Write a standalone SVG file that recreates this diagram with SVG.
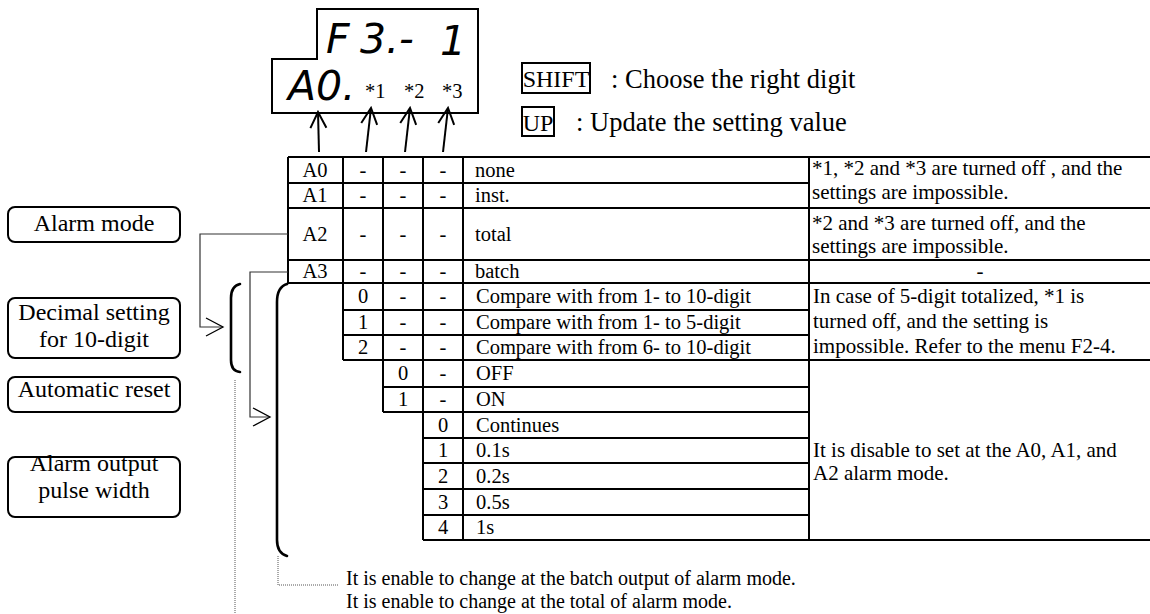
<svg xmlns="http://www.w3.org/2000/svg" width="1150" height="614" viewBox="0 0 1150 614">
<style>
.t{font-family:"Liberation Serif","Times New Roman",serif;font-size:20.5px;fill:#000}
.n{font-family:"Liberation Serif","Times New Roman",serif;font-size:21px;fill:#000}
.k{font-family:"Liberation Serif","Times New Roman",serif;font-size:24px;fill:#000}
.h{font-family:"Liberation Serif","Times New Roman",serif;font-size:26.5px;fill:#000}
.b{font-family:"Liberation Serif","Times New Roman",serif;font-size:20px;fill:#000}
.lb{font-family:"Liberation Serif","Times New Roman",serif;font-size:24px;fill:#000;text-anchor:middle}
.c{text-anchor:middle}
.seg{font-family:"DejaVu Sans",sans-serif;font-style:italic;font-size:41px;fill:#000}
.g{stroke:#000;stroke-width:2;fill:none}
.box{fill:#fff;stroke:#000;stroke-width:2}
.thin{stroke:#333;stroke-width:1.2;fill:none}
.dot{stroke:#555;stroke-width:1;fill:none;stroke-dasharray:1 1}
.br{stroke:#000;stroke-width:2.6;fill:none;stroke-linecap:round}
</style>
<defs>
<marker id="up" viewBox="0 0 20 20" refX="18" refY="10" markerWidth="20" markerHeight="20" markerUnits="userSpaceOnUse" orient="auto">
<path d="M2,2 L18,10 L2,18" fill="none" stroke="#000" stroke-width="2"/>
</marker>
<marker id="rt" viewBox="0 0 20 20" refX="18" refY="10" markerWidth="20" markerHeight="20" markerUnits="userSpaceOnUse" orient="auto">
<path d="M1,1 L18,10 L1,19" fill="none" stroke="#000" stroke-width="1.3"/>
</marker>
</defs>
<rect width="1150" height="614" fill="#fff"/>

<g id="display">
<path class="g" d="M317,9 L478,9 L478,113 L272,113 L272,59 L317,59 Z"/>
<text class="seg" x="326" y="53">F</text>
<text class="seg" x="360" y="53">3.-</text>
<text class="seg" x="440" y="55">1</text>
<text class="seg" x="288" y="100">A0.</text>
<text class="t" x="365" y="98">*1</text>
<text class="t" x="404" y="98">*2</text>
<text class="t" x="442" y="98">*3</text>
</g>

<g id="keys">
<rect class="g" x="522" y="63" width="68" height="30"/>
<text class="k" x="556" y="87" text-anchor="middle">SHIFT</text>
<text class="h" x="611" y="88">: Choose the right digit</text>
<rect class="g" x="522" y="107" width="32" height="29"/>
<text class="k" x="538" y="131" text-anchor="middle">UP</text>
<text class="h" x="576" y="131">: Update the setting value</text>
</g>

<g id="label-alarm-mode">
<rect class="box" x="8" y="207" width="172" height="35" rx="7"/>
<text class="lb" x="94" y="231">Alarm mode</text>
</g>
<g id="label-decimal">
<rect class="box" x="8" y="298" width="172" height="60" rx="7"/>
<text class="lb" x="94" y="320">Decimal setting</text>
<text class="lb" x="94" y="347">for 10-digit</text>
</g>
<g id="label-auto-reset">
<rect class="box" x="8" y="377" width="172" height="35" rx="7"/>
<text class="lb" x="94" y="397">Automatic reset</text>
</g>
<g id="label-pulse">
<rect class="box" x="8" y="457" width="172" height="60" rx="7"/>
<text class="lb" x="94" y="471">Alarm output</text>
<text class="lb" x="94" y="498">pulse width</text>
</g>

<g id="table">
<g class="g">
<line x1="288" y1="157" x2="1150" y2="157"/>
<line x1="288" y1="183" x2="809" y2="183"/>
<line x1="288" y1="208" x2="1150" y2="208"/>
<line x1="288" y1="260" x2="1150" y2="260"/>
<line x1="288" y1="283" x2="1150" y2="283"/>
<line x1="343" y1="310" x2="809" y2="310"/>
<line x1="343" y1="335" x2="809" y2="335"/>
<line x1="343" y1="360" x2="1150" y2="360"/>
<line x1="383" y1="387" x2="809" y2="387"/>
<line x1="383" y1="412" x2="809" y2="412"/>
<line x1="423" y1="438" x2="809" y2="438"/>
<line x1="423" y1="463" x2="809" y2="463"/>
<line x1="423" y1="489" x2="809" y2="489"/>
<line x1="423" y1="515" x2="809" y2="515"/>
<line x1="423" y1="540" x2="1150" y2="540"/>
<line x1="288" y1="157" x2="288" y2="283"/>
<line x1="343" y1="157" x2="343" y2="360"/>
<line x1="383" y1="157" x2="383" y2="412"/>
<line x1="423" y1="157" x2="423" y2="540"/>
<line x1="463" y1="157" x2="463" y2="540"/>
<line x1="809" y1="157" x2="809" y2="540"/>
</g>
<g class="t">
<text class="c" x="315" y="177">A0</text><text class="c" x="363" y="177">-</text><text class="c" x="403" y="177">-</text><text class="c" x="443" y="177">-</text><text x="475" y="177">none</text>
<text class="c" x="315" y="202">A1</text><text class="c" x="363" y="202">-</text><text class="c" x="403" y="202">-</text><text class="c" x="443" y="202">-</text><text x="475" y="202">inst.</text>
<text class="c" x="315" y="241">A2</text><text class="c" x="363" y="241">-</text><text class="c" x="403" y="241">-</text><text class="c" x="443" y="241">-</text><text x="475" y="241">total</text>
<text class="c" x="315" y="278">A3</text><text class="c" x="363" y="278">-</text><text class="c" x="403" y="278">-</text><text class="c" x="443" y="278">-</text><text x="475" y="278">batch</text>
<text class="c" x="363" y="303">0</text><text class="c" x="403" y="303">-</text><text class="c" x="443" y="303">-</text><text x="476" y="303">Compare with from 1- to 10-digit</text>
<text class="c" x="363" y="329">1</text><text class="c" x="403" y="329">-</text><text class="c" x="443" y="329">-</text><text x="476" y="329">Compare with from 1- to 5-digit</text>
<text class="c" x="363" y="354">2</text><text class="c" x="403" y="354">-</text><text class="c" x="443" y="354">-</text><text x="476" y="354">Compare with from 6- to 10-digit</text>
<text class="c" x="403" y="380">0</text><text class="c" x="443" y="380">-</text><text x="476" y="380">OFF</text>
<text class="c" x="403" y="406">1</text><text class="c" x="443" y="406">-</text><text x="476" y="406">ON</text>
<text class="c" x="443" y="432">0</text><text x="476" y="432">Continues</text>
<text class="c" x="443" y="457">1</text><text x="476" y="457">0.1s</text>
<text class="c" x="443" y="483">2</text><text x="476" y="483">0.2s</text>
<text class="c" x="443" y="509">3</text><text x="476" y="509">0.5s</text>
<text class="c" x="443" y="534">4</text><text x="476" y="534">1s</text>
</g>
<g class="n">
<text x="812" y="175">*1, *2 and *3 are turned off , and the</text>
<text x="812" y="199">settings are impossible.</text>
<text x="812" y="230">*2 and *3 are turned off, and the</text>
<text x="812" y="253">settings are impossible.</text>
<text x="980" y="278" text-anchor="middle">-</text>
<text x="813" y="303">In case of 5-digit totalized, *1 is</text>
<text x="813" y="328">turned off, and the setting is</text>
<text x="813" y="353">impossible. Refer to the menu F2-4.</text>
<text x="813" y="457">It is disable to set at the A0, A1, and</text>
<text x="813" y="480">A2 alarm mode.</text>
</g>
</g>

<g id="notes">
<text class="b" x="346" y="585">It is enable to change at the batch output of alarm mode.</text>
<text class="b" x="346" y="608">It is enable to change at the total of alarm mode.</text>
</g>

<g id="connectors">
<line x1="319" y1="152" x2="318" y2="112" stroke="#000" stroke-width="2" marker-end="url(#up)"/>
<line x1="366" y1="152" x2="371" y2="108" stroke="#000" stroke-width="2" marker-end="url(#up)"/>
<line x1="405" y1="152" x2="410" y2="108" stroke="#000" stroke-width="2" marker-end="url(#up)"/>
<line x1="443" y1="152" x2="448" y2="108" stroke="#000" stroke-width="2" marker-end="url(#up)"/>
<polyline class="thin" points="288,234 200,234 200,327 223,327" marker-end="url(#rt)"/>
<polyline class="thin" points="288,272 250,272 250,417 270,417" marker-end="url(#rt)"/>
<path class="br" d="M240,284 Q231,286 231,298 L231,360 Q231,371 240,372"/>
<path class="br" d="M287,284 Q277,287 277,302 L277,540 Q277,553 287,556"/>
<polyline class="dot" points="278,556 278,585 338,585"/>
<polyline class="dot" points="235,380 235,614"/>
</g>
</svg>
